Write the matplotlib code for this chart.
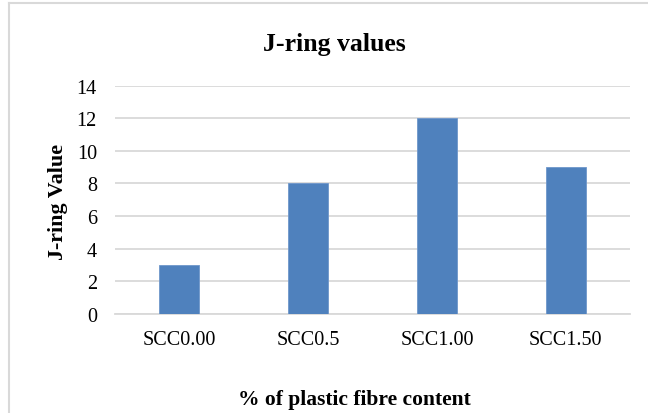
import matplotlib
matplotlib.use("Agg")
import matplotlib.pyplot as plt
from matplotlib.lines import Line2D

# Data
categories = ["SCC0.00", "SCC0.5", "SCC1.00", "SCC1.50"]
jring_values = [3, 8, 12, 9]
y_ticks = [0, 2, 4, 6, 8, 10, 12, 14]

W, H = 648, 414
DPI = 100
plt.rcParams["font.family"] = ["Liberation Serif", "DejaVu Serif"]

fig = plt.figure(figsize=(W / DPI, H / DPI), dpi=DPI)
fig.patch.set_facecolor("white")

def fx(px):
    return px / W

def fy(py):
    return 1 - py / H

# plot area in pixel coordinates
left, right, top, bottom = 115, 630, 86.7, 314.8
ax = fig.add_axes([fx(left), fy(bottom), fx(right - left), (bottom - top) / H])

x = range(len(categories))
ax.bar(x, jring_values, width=0.31, color="#4F81BD", edgecolor="#6F97CB",
       linewidth=0.6, zorder=3)

ax.set_xlim(-0.5, len(categories) - 0.5)
ax.set_ylim(0, 14)
ax.set_yticks(y_ticks)
ax.set_yticklabels([str(v) for v in y_ticks])
ax.set_xticks(list(x))
ax.set_xticklabels(categories)

grid_color = "#D9D9D9"
ax.yaxis.grid(True, color=grid_color, linewidth=1.3, zorder=0)
ax.set_axisbelow(True)
for side in ["top", "right", "left"]:
    ax.spines[side].set_visible(False)
ax.spines["bottom"].set_color(grid_color)
ax.spines["bottom"].set_linewidth(1.3)

ax.tick_params(axis="both", length=0, labelsize=14.5, colors="black")
ax.tick_params(axis="y", pad=13)
ax.tick_params(axis="x", pad=12)

# Titles
fig.text(fx(334), fy(51), "J-ring values", ha="center", va="baseline",
         fontsize=18.5, fontweight="bold")
fig.text(fx(354), fy(405), "% of plastic fibre content", ha="center",
         va="baseline", fontsize=15.5, fontweight="bold")
fig.text(fx(58), fy(202), "J-ring Value", ha="center", va="center",
         rotation=90, fontsize=15.8, fontweight="bold")

# Chart area border (top and left edges)
fig.add_artist(Line2D([fx(9), 1], [fy(4), fy(4)], color=grid_color,
                      linewidth=1.5, transform=fig.transFigure))
fig.add_artist(Line2D([fx(9), fx(9)], [fy(4), 0], color=grid_color,
                      linewidth=1.5, transform=fig.transFigure))

fig.savefig("out.png", dpi=DPI)
